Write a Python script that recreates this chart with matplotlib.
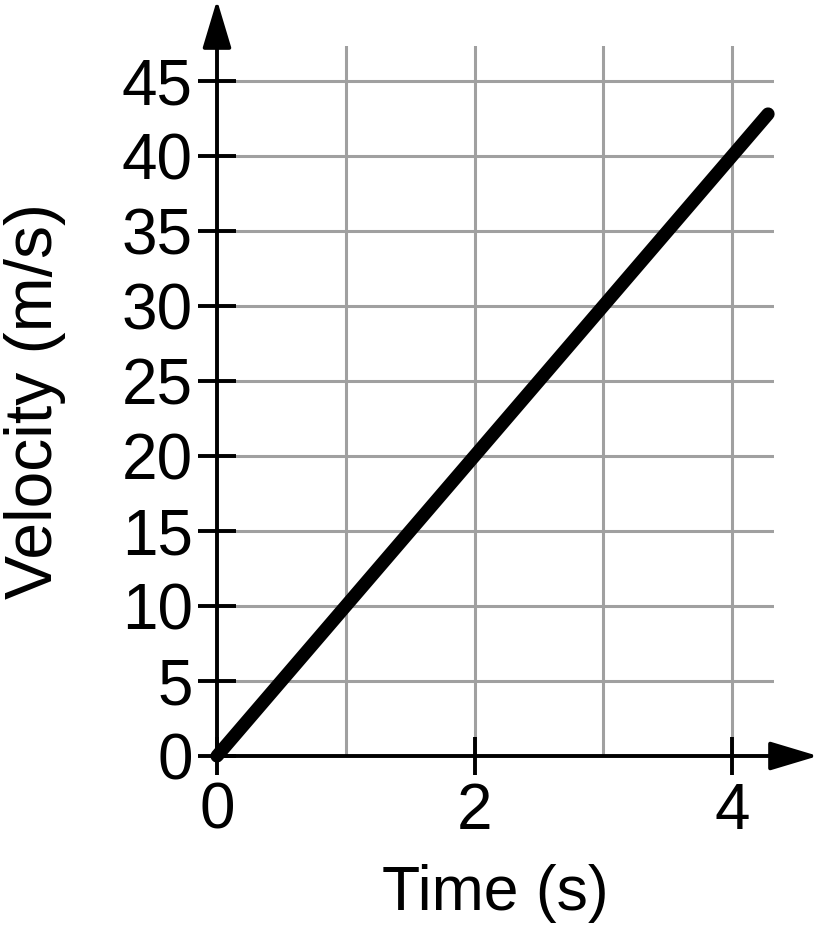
import matplotlib
matplotlib.use("Agg")
import matplotlib.pyplot as plt

# data
time_s = [0, 4.28]
velocity = [0, 42.8]
x_ticks = [0, 2, 4]
y_ticks = [0, 5, 10, 15, 20, 25, 30, 35, 40, 45]
x_grid = [1, 2, 3, 4]

plt.rcParams['font.family'] = ['Liberation Sans', 'DejaVu Sans']

fig = plt.figure(figsize=(8.18, 9.26), dpi=100)
ax = fig.add_axes([217 / 818, 170 / 926, 557 / 818, 710 / 926])

ax.set_xlim(0, 557 / 128.75)
ax.set_ylim(0, 710 / 15.0)

for s in ax.spines.values():
    s.set_visible(False)

# grid
for gx in x_grid:
    ax.axvline(gx, color='#a0a0a0', lw=2.2, zorder=1)
for gy in y_ticks[1:]:
    ax.axhline(gy, color='#a0a0a0', lw=2.2, zorder=1)

# axes with arrow heads
arrow = dict(arrowstyle='-|>,head_length=0.8,head_width=0.24',
             color='black', lw=2.8, shrinkA=0, shrinkB=0, mutation_scale=37)
ax.annotate('', xy=(0, 756 / 710), xytext=(0, 0), xycoords='axes fraction',
            arrowprops=arrow, annotation_clip=False, zorder=3)
ax.annotate('', xy=(601 / 557, 0), xytext=(0, 0), xycoords='axes fraction',
            arrowprops=arrow, annotation_clip=False, zorder=3)

ax.plot(time_s, velocity, color='black', lw=9.5, solid_capstyle='round',
        clip_on=False, zorder=4)

ax.set_xticks(x_ticks)
ax.set_yticks(y_ticks)
ax.tick_params(direction='inout', length=27, width=2.8, labelsize=46,
               color='black', pad=4)
ax.tick_params(axis='x', pad=5)

ax.set_xlabel('Time (s)', fontsize=45, labelpad=16)
ax.set_ylabel('Velocity (m/s)', fontsize=47.5, labelpad=40)

fig.savefig('out.png', dpi=100)
